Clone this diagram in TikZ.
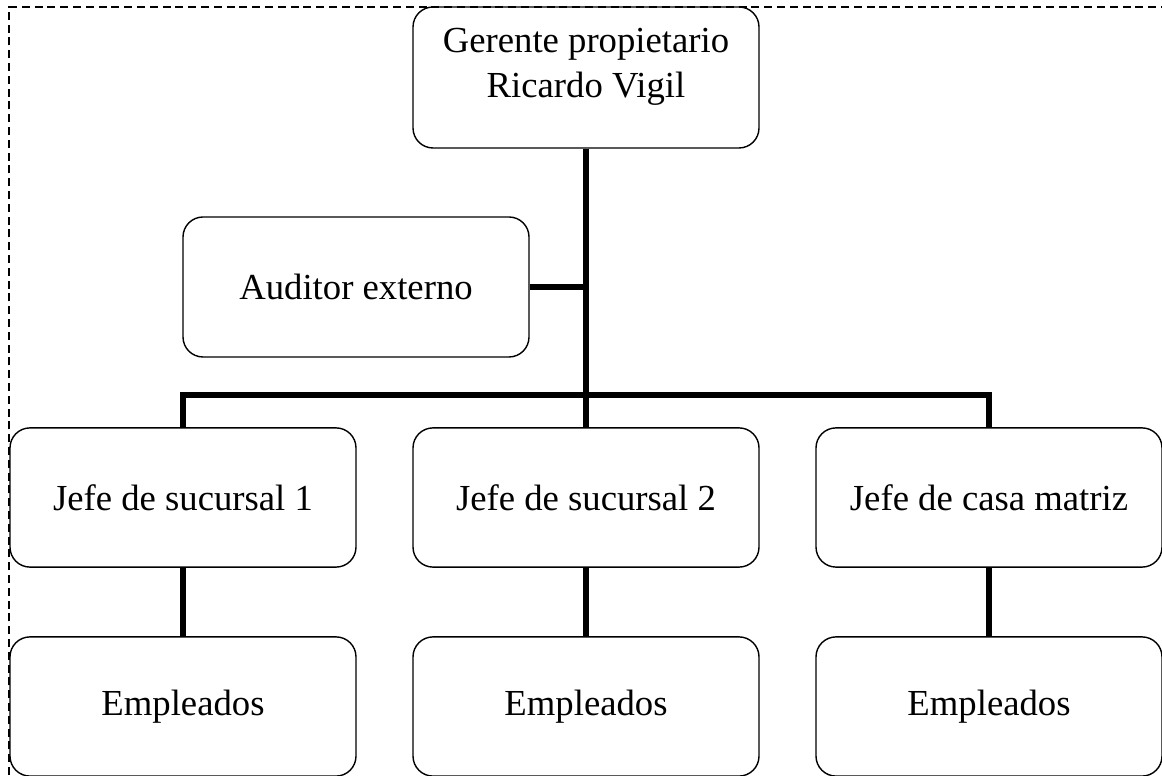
\documentclass[tikz,border=0pt]{standalone}
\usepackage{fontspec}
\setmainfont{Liberation Serif}
\usetikzlibrary{calc}
\newcommand{\orgfont}{\fontsize{26.1pt}{32pt}\selectfont}

\begin{document}
\begin{tikzpicture}[
  x=1cm, y=1cm,
  unit/.style={draw, rounded corners=0.5cm, line width=1pt, align=center,
               minimum width=8.65cm, minimum height=3.48cm, inner sep=0pt,
               font=\orgfont},
  tie/.style={line width=3.6pt, line join=miter},
  border/.style={line width=1.1pt, dash pattern=on 0.2cm off 0.12cm},
]
\useasboundingbox (0,0) rectangle (29.05,19.375);

% ---------------------------------------------------------------- geometry
\def\xa{4.575}    % left column
\def\xb{14.65}    % middle column
\def\xc{24.725}   % right column
\def\rowb{6.9375} % centre, row of branch heads
\def\rowc{1.7125} % centre, row of staff

% ---------------------------------------------------------------- frame
\draw[border] (0.225,0) -- (0.225,19.2) -- (29.05,19.2);

% ---------------------------------------------------------------- top
\node[unit, minimum height=3.525cm, text depth=0.74cm] (G) at (\xb,17.4375)
  {Gerente propietario\\Ricardo Vigil};
\node[unit, minimum height=3.5cm] (A) at (8.9,12.2) {Auditor externo};

% ---------------------------------------------------------------- branches
\node[unit] (J1) at (\xa,\rowb) {Jefe de sucursal 1};
\node[unit] (J2) at (\xb,\rowb) {Jefe de sucursal 2};
\node[unit] (J3) at (\xc,\rowb) {Jefe de casa matriz};

\node[unit] (E1) at (\xa,\rowc) {Empleados};
\node[unit] (E2) at (\xb,\rowc) {Empleados};
\node[unit] (E3) at (\xc,\rowc) {Empleados};

% ---------------------------------------------------------------- links
\coordinate (bar) at (\xb,9.5);

\draw[tie] (G.south) -- (bar);
\draw[tie] (A.east) -- (A.east -| G.south);
\draw[tie] (J1.north) |- (bar) -| (J3.north);
\draw[tie] (bar) -- (J2.north);
\draw[tie] (J1) -- (E1);
\draw[tie] (J2) -- (E2);
\draw[tie] (J3) -- (E3);

\end{tikzpicture}
\end{document}
